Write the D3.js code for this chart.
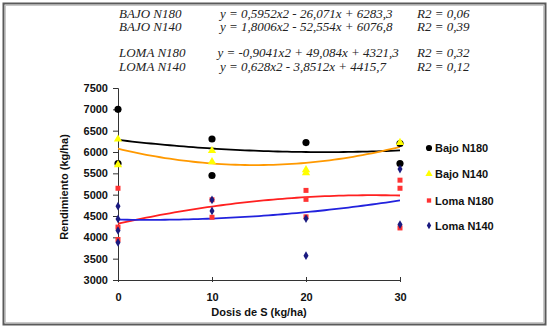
<!DOCTYPE html>
<html><head><meta charset="utf-8">
<script src="https://cdn.jsdelivr.net/npm/d3@7"></script>
<style>
html,body{margin:0;padding:0;background:#fff;}
svg{display:block;}
</style></head>
<body>
<svg id="chart" width="550" height="330"></svg>
<script>
// ---- data ----
const seriesNames = ["Bajo N180", "Bajo N140", "Loma N180", "Loma N140"];
const xTicks = [0, 10, 20, 30];
const yTicks = [3000, 3500, 4000, 4500, 5000, 5500, 6000, 6500, 7000, 7500];
const bajoN180X = [0, 0, 10, 10, 20, 30, 30];
const bajoN180Y = [7000, 5730, 6305, 5450, 6220, 6200, 5730];
const bajoN140X = [0, 0, 10, 10, 20, 20, 30];
const bajoN140Y = [6300, 5700, 6030, 5770, 5580, 5510, 6220];
const lomaN180X = [0, 0, 0, 10, 10, 20, 20, 20, 30, 30, 30];
const lomaN180Y = [5150, 4240, 3950, 4880, 4470, 5100, 4890, 4480, 5340, 5150, 4220];
const lomaN140X = [0, 0, 0, 0, 10, 10, 20, 20, 30, 30];
const lomaN140Y = [4730, 4430, 4160, 3880, 4880, 4620, 4440, 3570, 5600, 4300];
// trend line coefficients [a, b, c] for y = a x^2 + b x + c (as printed on chart)
const trendCoefs = [
  [0.5952, -26.071, 6283.3],
  [1.8006, -52.554, 6076.8],
  [-0.9041, 49.084, 4321.3],
  [0.628, -3.8512, 4415.7]
];
const eqLabels = ["BAJO N180", "BAJO N140", "LOMA N180", "LOMA N140"];
const eqTexts = ["y = 0,5952x2 - 26,071x + 6283,3", "y = 1,8006x2 - 52,554x + 6076,8",
                 "y = -0,9041x2 + 49,084x + 4321,3", "y = 0,628x2 - 3,8512x + 4415,7"];
const r2Texts = ["R2 = 0,06", "R2 = 0,39", "R2 = 0,32", "R2 = 0,12"];

// ---- drawing ----
const svg = d3.select("#chart");
const markerColors = ["#000000", "#FFFF00", "#FF3333", "#1a1a80"];
const lineColors = ["#000000", "#FF9900", "#FF2020", "#2222DD"];
const symbols = [d3.symbolCircle, d3.symbolTriangle, d3.symbolSquare, d3.symbolDiamond];
const symSizes = [40, 30, 25, 22];

// frame
svg.append("rect").attr("x", 3.5).attr("y", 3.5).attr("width", 542).attr("height", 321)
  .attr("fill", "none").attr("stroke", "#5a5a5a").attr("stroke-width", 2);
svg.append("rect").attr("x", 5.5).attr("y", 5.5).attr("width", 538).attr("height", 317)
  .attr("fill", "none").attr("stroke", "#c8c8c8").attr("stroke-width", 1);

const x = d3.scaleLinear().domain([0, 30]).range([118, 400]);
const y = d3.scaleLinear().domain([3000, 7500]).range([280, 88]);

// axes
const yAxis = svg.append("g").attr("transform", "translate(118,0)")
  .call(d3.axisLeft(y).tickValues(yTicks).tickSize(5).tickPadding(5).tickFormat(d3.format("d")));
const xAxis = svg.append("g").attr("transform", "translate(0,280)")
  .call(d3.axisBottom(x).tickValues(xTicks).tickSizeInner(-3).tickSizeOuter(0).tickPadding(13));
[yAxis, xAxis].forEach(g => {
  g.select(".domain").attr("stroke", "#333").attr("stroke-width", 1);
  g.selectAll(".tick line").attr("stroke", "#333");
  g.selectAll("text").attr("font-family", "Liberation Sans, Arial, sans-serif")
    .attr("font-size", 11).attr("font-weight", "bold").attr("fill", "#111");
});
xAxis.selectAll(".tick line").attr("y1", -3).attr("y2", 2);

// axis titles
svg.append("text").attr("x", 259).attr("y", 316).attr("text-anchor", "middle")
  .attr("font-family", "Liberation Sans, Arial, sans-serif").attr("font-size", 11)
  .attr("font-weight", "bold").attr("fill", "#111").text("Dosis de S (kg/ha)");
svg.append("text").attr("transform", "translate(68,187) rotate(-90)").attr("text-anchor", "middle")
  .attr("font-family", "Liberation Sans, Arial, sans-serif").attr("font-size", 11)
  .attr("font-weight", "bold").attr("fill", "#111").text("Rendimiento (kg/ha)");

// trend lines
const xs = d3.range(0, 30.01, 0.5);
trendCoefs.forEach((c, i) => {
  const pts = xs.map(v => [v, c[0] * v * v + c[1] * v + c[2]]);
  svg.append("path").datum(pts)
    .attr("d", d3.line().x(d => x(d[0])).y(d => y(d[1])))
    .attr("fill", "none").attr("stroke", lineColors[i]).attr("stroke-width", 1.8);
});

// points
const pointSets = [[bajoN180X, bajoN180Y], [bajoN140X, bajoN140Y], [lomaN180X, lomaN180Y], [lomaN140X, lomaN140Y]];
pointSets.forEach((s, i) => {
  const pts = s[0].map((v, k) => [v, s[1][k]]);
  svg.append("g").selectAll("path").data(pts).join("path")
    .attr("transform", d => `translate(${x(d[0])},${y(d[1])})`)
    .attr("d", d3.symbol().type(symbols[i]).size(symSizes[i]))
    .attr("fill", markerColors[i]);
});

// legend
const legY = [148, 174, 200.5, 225.5];
seriesNames.forEach((n, i) => {
  svg.append("path").attr("transform", `translate(429,${legY[i]})`)
    .attr("d", d3.symbol().type(symbols[i]).size(symSizes[i] * 0.75)).attr("fill", markerColors[i]);
  svg.append("text").attr("x", 435).attr("y", legY[i] + 4)
    .attr("font-family", "Liberation Sans, Arial, sans-serif").attr("font-size", 11)
    .attr("font-weight", "bold").attr("fill", "#111").text(n);
});

// equations
const eqY = [17.5, 31, 57, 71];
eqLabels.forEach((l, i) => {
  const f = t => t.attr("font-family", "Liberation Serif, Times New Roman, serif").attr("font-size", 13)
    .attr("font-style", "italic").attr("fill", "#222");
  svg.append("text").attr("x", 119).attr("y", eqY[i]).text(l).call(f);
  svg.append("text").attr("x", i === 2 ? 217.5 : 220).attr("y", eqY[i]).text(eqTexts[i]).call(f);
  svg.append("text").attr("x", 417).attr("y", eqY[i]).text(r2Texts[i]).call(f);
});
</script>
</body></html>
